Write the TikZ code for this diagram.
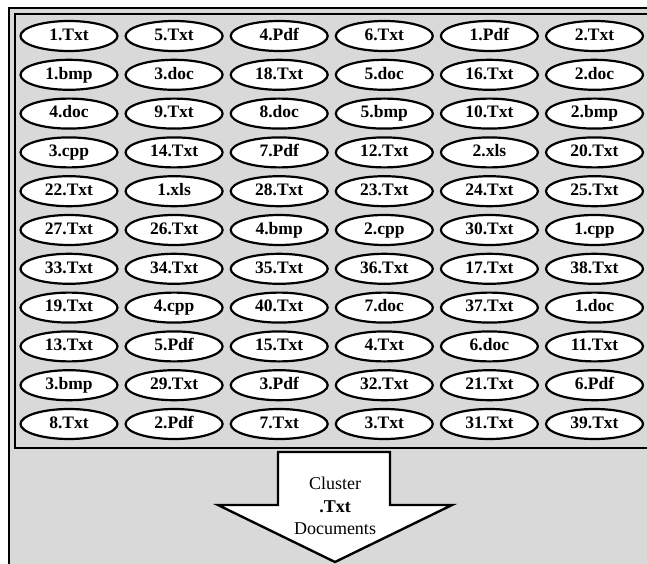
\documentclass[tikz,border=0pt]{standalone}
\usepackage{fontspec}
\setmainfont{Liberation Serif}
\usetikzlibrary{shapes.geometric}
\definecolor{panelgray}{HTML}{D9D9D9}

\begin{document}
\begin{tikzpicture}[
    x=1pt, y=-1pt,
    doc/.style={ellipse, draw, line width=2.2pt, fill=white, minimum width=97pt,
                minimum height=30pt, inner sep=0pt, text height=12pt, text depth=3.5pt,
                font=\fontsize{17.5}{19}\selectfont\bfseries},
    frame/.style={draw, line width=2.4pt, fill=panelgray},
    lbl/.style={font=\fontsize{18}{22.5}\selectfont, align=center}
]
\useasboundingbox (0,0) rectangle (647,564);
\clip (0,0) rectangle (647,564);

% --- Frames ---
\draw[frame] (9,8) rectangle (700,640);
\draw[frame] (15,14) rectangle (700,448);

% --- Document pool ---
\foreach \row [count=\r] in {
    {1.Txt,5.Txt,4.Pdf,6.Txt,1.Pdf,2.Txt},
    {1.bmp,3.doc,18.Txt,5.doc,16.Txt,2.doc},
    {4.doc,9.Txt,8.doc,5.bmp,10.Txt,2.bmp},
    {3.cpp,14.Txt,7.Pdf,12.Txt,2.xls,20.Txt},
    {22.Txt,1.xls,28.Txt,23.Txt,24.Txt,25.Txt},
    {27.Txt,26.Txt,4.bmp,2.cpp,30.Txt,1.cpp},
    {33.Txt,34.Txt,35.Txt,36.Txt,17.Txt,38.Txt},
    {19.Txt,4.cpp,40.Txt,7.doc,37.Txt,1.doc},
    {13.Txt,5.Pdf,15.Txt,4.Txt,6.doc,11.Txt},
    {3.bmp,29.Txt,3.Pdf,32.Txt,21.Txt,6.Pdf},
    {8.Txt,2.Pdf,7.Txt,3.Txt,31.Txt,39.Txt}}
  \foreach \name [count=\c] in \row
    \node[doc] (d-\r-\c) at ({69+105.1*(\c-1)},{36+38.8*(\r-1)}) {\name};

% --- Clustering arrow ---
\draw[frame, fill=white, line join=miter]
    (278,452) -- (390,452) -- (390,505) -- (452,505) -- (335,562)
    -- (218,505) -- (278,505) -- cycle;
\node[lbl] (cluster) at (335,506) {Cluster\\\textbf{.Txt}\\Documents};

\end{tikzpicture}
\end{document}
